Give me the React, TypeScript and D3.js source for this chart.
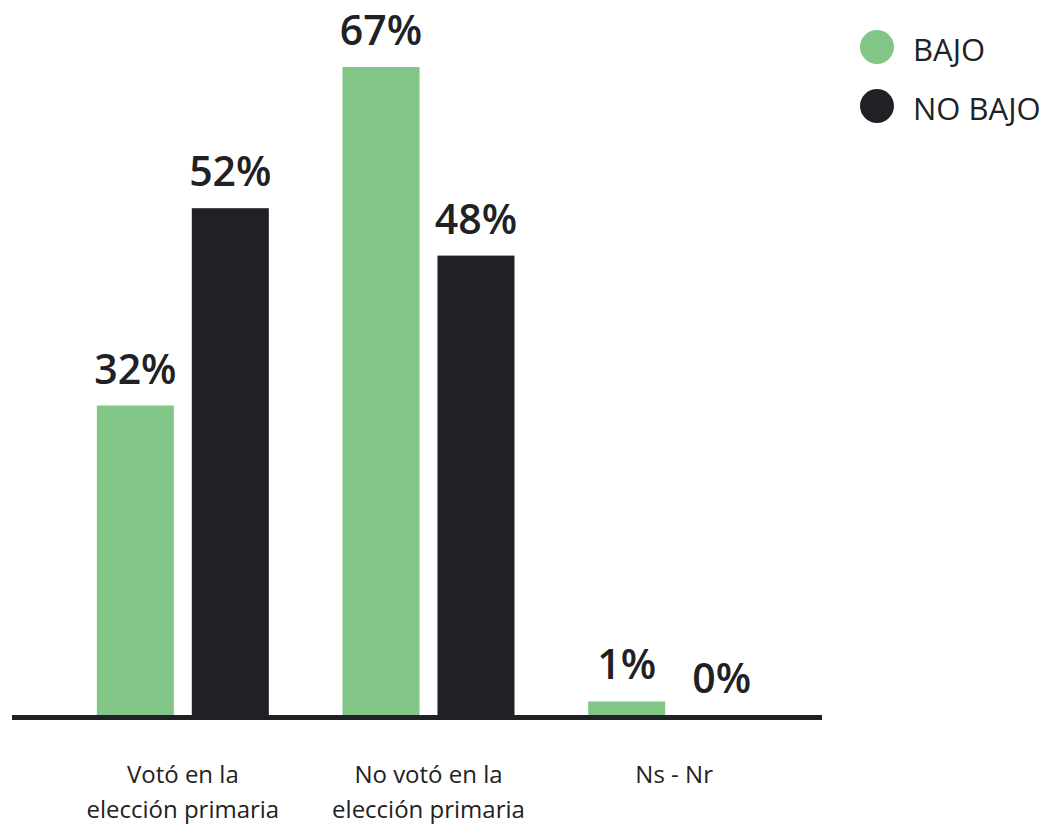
import React from "react";
import * as d3 from "d3";

const categories = ["Votó en la|elección primaria", "No votó en la|elección primaria", "Ns - Nr"];
const seriesNames = ["BAJO", "NO BAJO"];
const bajoValues = [32, 67, 1.4];
const noBajoValues = [52.4, 47.5, 0];
const seriesColors = ["#82c687", "#202124"];

const W = 1044;
const H = 829;

export default function App() {
  const x0 = d3.scaleBand<string>().domain(categories).range([60, 797]).padding(0);
  const x1 = d3
    .scaleBand<string>()
    .domain(seriesNames)
    .range([0, x0.bandwidth()])
    .paddingInner(0.189)
    .paddingOuter(0.388);
  const allVals = [...bajoValues, ...noBajoValues];
  const y = d3.scaleLinear().domain([0, d3.max(allVals) as number]).range([715, 67]);
  const seriesValues = [bajoValues, noBajoValues];
  const fmt = (v: number) => `${Math.round(v)}%`;

  return (
    <svg
      width={W}
      height={H}
      style={{ position: "absolute", left: 0, top: 0, background: "#fff" }}
      fontFamily="'Open Sans', sans-serif"
    >
      {categories.map((cat, ci) => (
        <g key={cat} transform={`translate(${x0(cat)},0)`}>
          {seriesNames.map((s, si) => {
            const v = seriesValues[si][ci];
            const bx = x1(s) as number;
            const by = y(v);
            return (
              <g key={s}>
                {v > 0 && (
                  <rect x={bx} y={by} width={x1.bandwidth()} height={y(0) - by} fill={seriesColors[si]} />
                )}
                <text
                  x={bx + x1.bandwidth() / 2}
                  y={by - 22}
                  textAnchor="middle"
                  fontSize={41}
                  fontWeight={600}
                  fill="#202124"
                >
                  {fmt(v)}
                </text>
              </g>
            );
          })}
          {cat.split("|").map((line, li) => (
            <text
              key={li}
              x={x0.bandwidth() / 2}
              y={783 + li * 35}
              textAnchor="middle"
              fontSize={24}
              fill="#222"
            >
              {line}
            </text>
          ))}
        </g>
      ))}
      <line x1={12} x2={822} y1={717.5} y2={717.5} stroke="#202124" strokeWidth={5} />
      {seriesNames.map((s, i) => (
        <g key={s} transform={`translate(877,${47 + i * 59})`}>
          <circle r={17} fill={seriesColors[i]} />
          <text x={36} y={14} fontSize={31} fill="#202124">
            {s}
          </text>
        </g>
      ))}
    </svg>
  );
}
